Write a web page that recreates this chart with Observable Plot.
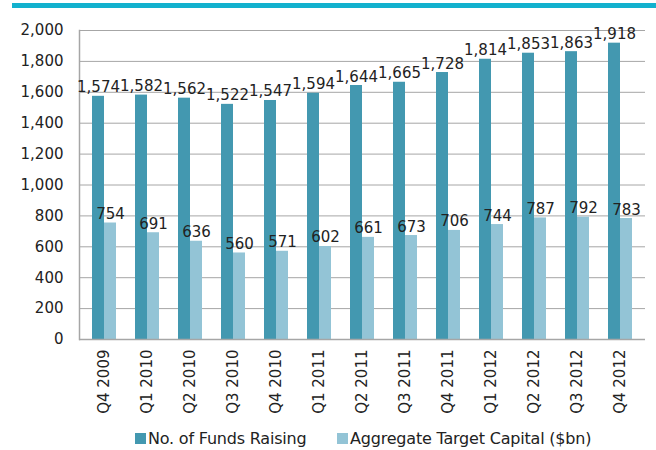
<!DOCTYPE html>
<html>
<head>
<meta charset="utf-8">
<script src="https://cdn.jsdelivr.net/npm/d3@7"></script>
<script src="https://cdn.jsdelivr.net/npm/@observablehq/plot@0.6"></script>
<style>
  body { margin: 0; background: #fff; width: 656px; height: 450px; position: relative; overflow: hidden; font-family: "DejaVu Sans", sans-serif; }
  #topbar { position: absolute; left: 12px; top: 3px; width: 644px; height: 5px; background: #13B1CE; }
  #chart { position: absolute; left: 0; top: 0; }
  .item { position: absolute; top: 429px; display: flex; align-items: center; font-size: 16px; color: #222; white-space: nowrap; letter-spacing: -0.2px; }
  .sw { display: inline-block; width: 11px; height: 11px; margin-right: 2px; }
</style>
</head>
<body>
<div id="topbar"></div>
<div id="chart"></div>
<div id="legend"></div>
<script>
const quarters = ["Q4 2009","Q1 2010","Q2 2010","Q3 2010","Q4 2010","Q1 2011","Q2 2011","Q3 2011","Q4 2011","Q1 2012","Q2 2012","Q3 2012","Q4 2012"];
const funds = [1574,1582,1562,1522,1547,1594,1644,1665,1728,1814,1853,1863,1918];
const capital = [754,691,636,560,571,602,661,673,706,744,787,792,783];
const series = ["No. of Funds Raising", "Aggregate Target Capital ($bn)"];
const colors = ["#4398B0", "#93C4D6"];
const yTicks = [0,200,400,600,800,1000,1200,1400,1600,1800,2000];
const legendLeft = [135, 337];

const fundData = quarters.map((q, i) => ({q, v: funds[i]}));
const capData = quarters.map((q, i) => ({q, v: capital[i]}));
const fmt = d3.format(",");

const plot = Plot.plot({
  width: 656,
  height: 420,
  marginTop: 30,
  marginLeft: 79,
  marginRight: 11,
  marginBottom: 81,
  style: {fontFamily: "DejaVu Sans, sans-serif", fontSize: "15px", color: "#222", background: "transparent"},
  x: {domain: quarters, paddingInner: 0.45, paddingOuter: 0.225, label: null, tickRotate: -90, tickSize: 0, tickPadding: 10},
  y: {domain: [0, 2000], ticks: yTicks, tickFormat: fmt, label: null, tickSize: 0, tickPadding: 16},
  marks: [
    Plot.gridY(yTicks, {stroke: "#A6A6A6", strokeOpacity: 1, strokeWidth: 1}),
    Plot.barY(fundData, {x: "q", y: "v", fill: colors[0], insetRight: 12}),
    Plot.barY(capData, {x: "q", y: "v", fill: colors[1], insetLeft: 12}),
    Plot.ruleY([0], {stroke: "#A6A6A6", strokeWidth: 1.5}),
    Plot.frame({anchor: "left", stroke: "#A6A6A6", strokeWidth: 1.5}),
    Plot.text(fundData, {x: "q", y: "v", text: d => fmt(d.v), dx: -6, dy: -4, lineAnchor: "bottom", fill: "#222", fontSize: 15}),
    Plot.text(capData, {x: "q", y: "v", text: d => fmt(d.v), dx: 6, dy: -4, lineAnchor: "bottom", fill: "#222", fontSize: 15})
  ]
});
document.getElementById("chart").appendChild(plot);

const legend = document.getElementById("legend");
series.forEach((s, i) => {
  const item = document.createElement("div");
  item.className = "item";
  item.style.left = legendLeft[i] + "px";
  const sw = document.createElement("span");
  sw.className = "sw";
  sw.style.background = colors[i];
  item.appendChild(sw);
  item.appendChild(document.createTextNode(s));
  legend.appendChild(item);
});
</script>
</body>
</html>
